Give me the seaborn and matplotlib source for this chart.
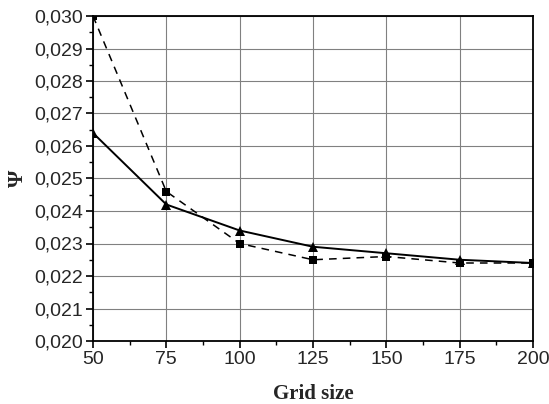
import numpy as np
import pandas as pd
import matplotlib
matplotlib.use('Agg')
import matplotlib.pyplot as plt
import seaborn as sns
from matplotlib.ticker import MultipleLocator, FuncFormatter

# data
grid_size = [50, 75, 100, 125, 150, 175, 200]
psi_solid = [0.0264, 0.0242, 0.0234, 0.0229, 0.0227, 0.0225, 0.0224]
psi_dashed = [0.0300, 0.0246, 0.0230, 0.0225, 0.0226, 0.0224, 0.0224]

df = pd.DataFrame({'grid': grid_size, 'solid': psi_solid, 'dashed': psi_dashed})

sns.set_style('white')
plt.rcParams['font.family'] = ['Liberation Sans', 'DejaVu Sans']

fig = plt.figure(figsize=(5.49, 4.04), dpi=100)
ax = fig.add_axes([93/549, 1 - 341/404, (533-93)/549, (341-16)/404])

sns.lineplot(data=df, x='grid', y='dashed', ax=ax, color='black', linewidth=1.1,
             linestyle=(0, (5, 4)), marker='s', markersize=6, markeredgewidth=0)
sns.lineplot(data=df, x='grid', y='solid', ax=ax, color='black', linewidth=1.4,
             marker='^', markersize=7, markeredgewidth=0)

ax.set_xlim(50, 200)
ax.set_ylim(0.020, 0.030)
ax.xaxis.set_major_locator(MultipleLocator(25))
ax.xaxis.set_minor_locator(MultipleLocator(12.5))
ax.yaxis.set_major_locator(MultipleLocator(0.001))
ax.yaxis.set_minor_locator(MultipleLocator(0.0005))
ax.yaxis.set_major_formatter(FuncFormatter(lambda v, p: f"{v:.3f}".replace('.', ',')))

ax.grid(True, which='major', color='#808080', linewidth=0.8)
ax.set_axisbelow(True)
for s in ax.spines.values():
    s.set_color('black')
    s.set_linewidth(1.3)

ax.tick_params(which='both', direction='out', color='black', left=True, bottom=True)
ax.tick_params(which='major', length=5, width=1.2, labelsize=14, pad=2)
ax.tick_params(which='minor', length=3, width=1.0)

ax.set_xlabel('Grid size', fontsize=15, fontweight='bold', family='Liberation Serif', labelpad=12)
ax.set_ylabel('Ψ', fontsize=16, fontweight='bold', family='Liberation Serif', labelpad=5)

fig.savefig('out.png', dpi=100)
